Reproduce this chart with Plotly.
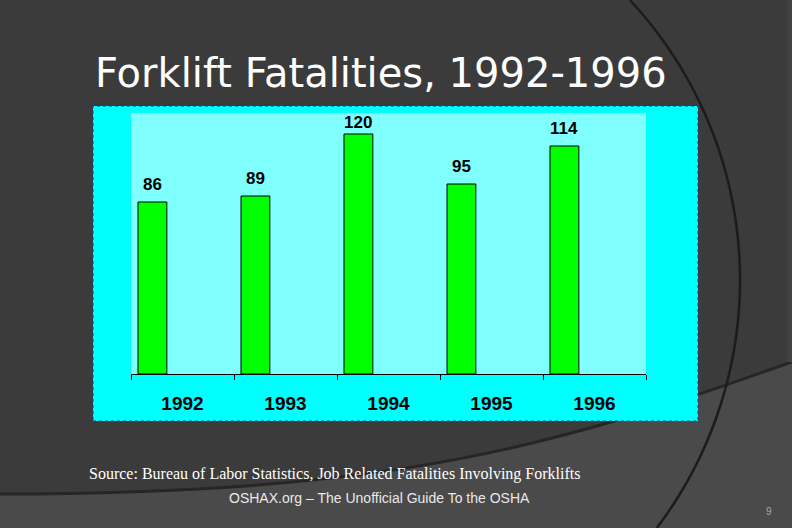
import math
import plotly.graph_objects as go

# ---- data ----
years = ["1992", "1993", "1994", "1995", "1996"]
fatalities = [86, 89, 120, 95, 114]

title_text = "Forklift Fatalities, 1992-1996"
source_text = "Source: Bureau of Labor Statistics, Job Related Fatalities Involving Forklifts"
footer_text = "OSHAX.org \u2013 The Unofficial Guide To the OSHA"
page_text = "9"

# ---- layout geometry (pixels) ----
W, H = 792, 528
PL, PR, PT, PB = 131, 646, 113, 374


def xp(px):
    return (px - PL) / (PR - PL)


def yp(py):
    return (PB - py) / (PB - PT)


BAR_W = 0.28
BAR_OFF = -0.432

fig = go.Figure()
fig.add_trace(go.Bar(
    x=years, y=fatalities,
    width=BAR_W, offset=BAR_OFF,
    marker=dict(color="#00ff00", line=dict(color="#000000", width=1)),
    hoverinfo="skip",
))

annotations = []
ymax = 130.5
for i, v in enumerate(fatalities):
    annotations.append(dict(
        x=i + BAR_OFF + BAR_W / 2, y=min(v + 9, ymax - 4.5),
        xref="x", yref="y", text=f"<b>{v}</b>", showarrow=False,
        font=dict(family="Liberation Sans, Arial", size=17, color="#000000"),
        xanchor="center", yanchor="middle",
    ))

annotations += [
    dict(x=xp(93), y=yp(73), xref="paper", yref="paper", text=title_text,
         showarrow=False, xanchor="left", yanchor="middle",
         font=dict(family="DejaVu Sans", size=40, color="#ffffff")),
    dict(x=xp(87), y=yp(474), xref="paper", yref="paper", text=source_text,
         showarrow=False, xanchor="left", yanchor="middle",
         font=dict(family="Liberation Serif, Times New Roman", size=16, color="#ffffff")),
    dict(x=xp(227), y=yp(498), xref="paper", yref="paper", text=footer_text,
         showarrow=False, xanchor="left", yanchor="middle",
         font=dict(family="Liberation Sans, Arial", size=14, color="#e8e8e8")),
    dict(x=xp(769), y=yp(511), xref="paper", yref="paper", text=page_text,
         showarrow=False, xanchor="center", yanchor="middle",
         font=dict(family="Liberation Sans, Arial", size=10, color="#a8a8a8")),
]

# decorative arc (right part of a large circle) as a polyline
CX, CY, R = 329, 280, 411
arc_pts = []
for k in range(0, 529, 8):
    px = CX + math.sqrt(R * R - (k - CY) ** 2)
    arc_pts.append(f"{xp(px)},{yp(k)}")
arc_path = "M " + " L ".join(arc_pts)

shapes = [
    # lighter lower band
    dict(type="path", xref="paper", yref="paper", layer="below",
         path=(f"M {xp(-5)},{yp(494)} C {xp(400)},{yp(494)} {xp(560)},{yp(445)} {xp(797)},{yp(360)} "
               f"L {xp(797)},{yp(535)} L {xp(-5)},{yp(535)} Z"),
         fillcolor="#4a4a4a", line=dict(color="#262626", width=3)),
    # right edge stripe
    dict(type="rect", xref="paper", yref="paper", layer="below",
         x0=xp(787), x1=xp(795), y0=yp(-5), y1=yp(362),
         fillcolor="#414141", line=dict(width=0)),
    # big decorative arc
    dict(type="path", xref="paper", yref="paper", layer="below",
         path=arc_path, line=dict(color="#1c1c1c", width=2.5)),
    # cyan chart box
    dict(type="rect", xref="paper", yref="paper", layer="below",
         x0=xp(93), x1=xp(698), y0=yp(421), y1=yp(106),
         fillcolor="#00ffff", line=dict(color="#1a3aa0", width=1, dash="dot")),
    # light plot area
    dict(type="rect", xref="paper", yref="paper", layer="below",
         x0=0, x1=1, y0=0, y1=1,
         fillcolor="#80ffff", line=dict(width=0)),
]

fig.update_layout(
    width=W, height=H, autosize=False,
    margin=dict(l=PL, r=W - PR, t=PT, b=H - PB, pad=0),
    paper_bgcolor="#3b3b3b",
    plot_bgcolor="rgba(0,0,0,0)",
    showlegend=False,
    annotations=annotations,
    shapes=shapes,
    xaxis=dict(
        type="category", range=[-0.5, 4.5], tickson="boundaries",
        ticks="outside", ticklen=5, tickcolor="#000000", tickwidth=1,
        showline=True, linecolor="#000000", linewidth=1,
        showgrid=False, zeroline=False,
        tickfont=dict(family="Liberation Sans, Arial", size=19, color="#000000"),
        ticklabelstandoff=12,
        tickvals=years, ticktext=[f"<b>{y}</b>" for y in years],
        fixedrange=True,
    ),
    yaxis=dict(
        range=[0, ymax], showgrid=False, zeroline=False, showline=False,
        showticklabels=False, ticks="", fixedrange=True,
    ),
)

fig.write_html(
    "out.html",
    config={"displayModeBar": False},
    post_script="document.body.style.margin='0';document.body.style.background='#3b3b3b';",
)
